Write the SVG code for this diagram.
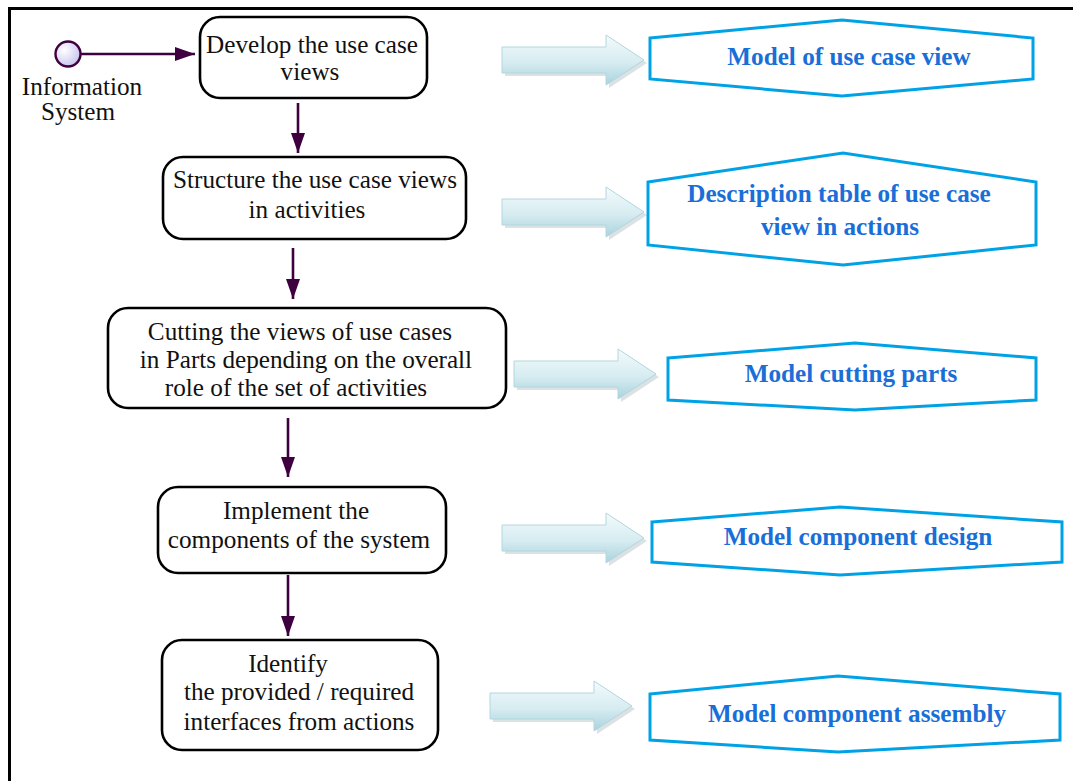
<svg xmlns="http://www.w3.org/2000/svg" width="1073" height="781" viewBox="0 0 1073 781">
  <style>
    .box { fill: #ffffff; stroke: #000000; stroke-width: 2.6; }
    .txt { font-family: "Liberation Serif", "DejaVu Serif", serif; font-size: 25.2px; fill: #111111; text-anchor: middle; }
    .out { fill: #ffffff; stroke: #00a2e6; stroke-width: 3; stroke-linejoin: miter; }
    .otxt { font-family: "Liberation Serif", "DejaVu Serif", serif; font-size: 25.2px; font-weight: bold; fill: #1a6ed8; text-anchor: middle; }
    .flow { stroke: #3f0040; stroke-width: 2.6; fill: none; }
    .frame { stroke: #000000; stroke-width: 3; fill: none; }
  </style>
  <defs>
    <linearGradient id="blockFill" x1="0" y1="0" x2="0" y2="1">
      <stop offset="0" stop-color="#f4fafc"/>
      <stop offset="0.55" stop-color="#d6ecf1"/>
      <stop offset="1" stop-color="#a9d3de"/>
    </linearGradient>
    <radialGradient id="startFill" cx="0.35" cy="0.35" r="0.7">
      <stop offset="0" stop-color="#ffffff"/>
      <stop offset="1" stop-color="#c8c4ee"/>
    </radialGradient>
    <marker id="head" viewBox="0 0 20 14" refX="20" refY="7" markerWidth="20" markerHeight="14" markerUnits="userSpaceOnUse" orient="auto">
      <path d="M0,0 L20,7 L0,14 Z" fill="#3f0040"/>
    </marker>
    <!-- block arrow pointing right, origin at the left end of its axis -->
    <path id="block" d="M0,-13 L104,-13 L104,-25 L142,0 L104,25 L104,13 L0,13 Z"/>
  </defs>

  <rect width="1073" height="781" fill="#ffffff"/>
  <path class="frame" d="M9.5,781 L9.5,8.5 L1073,8.5"/>

  <!-- start node -->
  <g id="start">
    <circle cx="68" cy="54" r="12.5" fill="url(#startFill)" stroke="#3f0040" stroke-width="2.4"/>
    <text class="txt" x="82" y="95">Information</text>
    <text class="txt" x="78" y="120">System</text>
  </g>

  <!-- activity steps -->
  <g id="step1">
    <rect class="box" x="200" y="17" width="227" height="81" rx="20"/>
    <text class="txt" x="312" y="53">Develop the use case</text>
    <text class="txt" x="310" y="80">views</text>
  </g>
  <g id="step2">
    <rect class="box" x="163" y="157" width="303" height="82" rx="20"/>
    <text class="txt" x="315" y="188">Structure the use case views</text>
    <text class="txt" x="307" y="218">in activities</text>
  </g>
  <g id="step3">
    <rect class="box" x="108" y="308" width="398" height="100" rx="20"/>
    <text class="txt" x="300" y="340">Cutting the views of use cases</text>
    <text class="txt" x="306" y="368">in Parts depending on the overall</text>
    <text class="txt" x="296" y="396">role of the set of activities</text>
  </g>
  <g id="step4">
    <rect class="box" x="158" y="487" width="288" height="86" rx="20"/>
    <text class="txt" x="296" y="519">Implement the</text>
    <text class="txt" x="299" y="548">components of the system</text>
  </g>
  <g id="step5">
    <rect class="box" x="162" y="640" width="276" height="110" rx="20"/>
    <text class="txt" x="288" y="672">Identify</text>
    <text class="txt" x="299" y="700">the provided / required</text>
    <text class="txt" x="299" y="730">interfaces from actions</text>
  </g>

  <!-- control flow -->
  <g id="connectors">
    <line class="flow" x1="81" y1="54" x2="195" y2="54" marker-end="url(#head)"/>
    <line class="flow" x1="298" y1="103" x2="298" y2="153" marker-end="url(#head)"/>
    <line class="flow" x1="293" y1="248" x2="293" y2="299" marker-end="url(#head)"/>
    <line class="flow" x1="288" y1="418" x2="288" y2="477" marker-end="url(#head)"/>
    <line class="flow" x1="288" y1="575" x2="288" y2="636" marker-end="url(#head)"/>
  </g>

  <!-- produced-artifact arrows -->
  <g id="outputArrows">
    <g transform="translate(502,60)">
      <use href="#block" x="3" y="3" fill="#9aa9ae" opacity="0.35"/>
      <use href="#block" fill="url(#blockFill)" stroke="#b2d6df" stroke-width="1"/>
    </g>
    <g transform="translate(502,212)">
      <use href="#block" x="3" y="3" fill="#9aa9ae" opacity="0.35"/>
      <use href="#block" fill="url(#blockFill)" stroke="#b2d6df" stroke-width="1"/>
    </g>
    <g transform="translate(514,374)">
      <use href="#block" x="3" y="3" fill="#9aa9ae" opacity="0.35"/>
      <use href="#block" fill="url(#blockFill)" stroke="#b2d6df" stroke-width="1"/>
    </g>
    <g transform="translate(502,538)">
      <use href="#block" x="3" y="3" fill="#9aa9ae" opacity="0.35"/>
      <use href="#block" fill="url(#blockFill)" stroke="#b2d6df" stroke-width="1"/>
    </g>
    <g transform="translate(490,706)">
      <use href="#block" x="3" y="3" fill="#9aa9ae" opacity="0.35"/>
      <use href="#block" fill="url(#blockFill)" stroke="#b2d6df" stroke-width="1"/>
    </g>
  </g>

  <!-- produced artifacts -->
  <g id="artifact1">
    <polygon class="out" points="650,38 842,20 1033,38 1033,79 842,96 650,79"/>
    <text class="otxt" x="849" y="65">Model of use case view</text>
  </g>
  <g id="artifact2">
    <polygon class="out" points="648,182 843,153 1036,182 1036,245 843,265 648,245"/>
    <text class="otxt" x="839" y="202">Description table of use case</text>
    <text class="otxt" x="840" y="235">view in actions</text>
  </g>
  <g id="artifact3">
    <polygon class="out" points="668,358 855,343 1036,358 1036,400 855,410 668,400"/>
    <text class="otxt" x="851" y="382">Model cutting parts</text>
  </g>
  <g id="artifact4">
    <polygon class="out" points="652,522 840,507 1062,522 1062,562 840,575 652,562"/>
    <text class="otxt" x="858" y="545">Model component design</text>
  </g>
  <g id="artifact5">
    <polygon class="out" points="650,694 838,676 1060,694 1060,740 838,752 650,740"/>
    <text class="otxt" x="857" y="722">Model component assembly</text>
  </g>
</svg>
